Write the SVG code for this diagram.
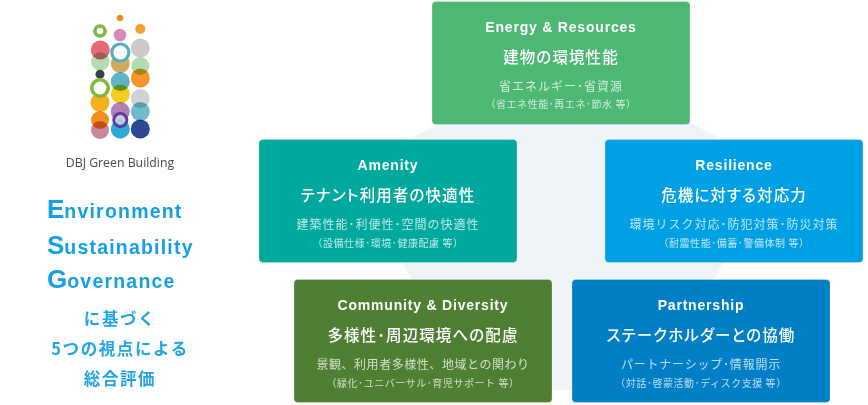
<svg xmlns="http://www.w3.org/2000/svg" width="868" height="405" viewBox="0 0 868 405">
<style>
text{font-family:"Liberation Sans","Noto Sans CJK JP",sans-serif;text-anchor:middle;fill:#fff}
.t{font-size:14px;font-weight:700;letter-spacing:.8px}
.h{font-family:"Noto Sans CJK JP",sans-serif;font-size:15.5px;font-weight:500;letter-spacing:1.1px;font-feature-settings:"palt"}
.s{font-family:"Noto Sans CJK JP",sans-serif;font-size:12px;letter-spacing:1px;fill-opacity:.75}
.n{font-family:"Noto Sans CJK JP",sans-serif;font-size:10px;letter-spacing:.55px;fill-opacity:.75}
.b{stroke:#fff;stroke-opacity:.25;stroke-width:1}
.e{text-anchor:start;fill:#159fe4;font-weight:700;font-size:19.5px;letter-spacing:1.2px}
.e tspan{font-size:26px;letter-spacing:0}
.j{fill:#22a5e6;font-family:"Noto Sans CJK JP",sans-serif;font-size:16.5px;font-weight:700;letter-spacing:1.6px}
.o circle{mix-blend-mode:multiply}
</style>
<polygon points="565,60 760,158 760,200 723,263 652,390 480,390 402,263 360,200 360,163 427,130" fill="#eff4f8"/>
<g id="logo">
<circle cx="120" cy="18" r="3.2" fill="#ef8a1f"/>
<circle cx="100" cy="31" r="5" fill="none" stroke="#7fb83e" stroke-width="3.6"/>
<circle cx="120" cy="35" r="6.3" fill="#d68ab4"/>
<circle cx="140.3" cy="29" r="5" fill="#f3a02f"/>
<g class="o">
<circle cx="100.3" cy="61.5" r="9.3" fill="#b5dbb0"/>
<circle cx="100.3" cy="50" r="9.5" fill="#e46a78"/>
<circle cx="120.3" cy="63.5" r="9.5" fill="#d3ab5e"/>
<circle cx="140.3" cy="48" r="9.5" fill="#cfc8c8"/>
<circle cx="140.3" cy="66" r="9" fill="#b4dcb3"/>
<circle cx="140.3" cy="78" r="9.5" fill="#f3962c"/>
<circle cx="120.3" cy="81.5" r="9.5" fill="#5fb5c6"/>
<circle cx="120.3" cy="94" r="9.5" fill="#f6cc1f"/>
<circle cx="100" cy="102.5" r="9.5" fill="#f5b121"/>
<circle cx="100" cy="120" r="9" fill="#f1901c"/>
<circle cx="100" cy="130" r="9" fill="#c98a98"/>
<circle cx="140.3" cy="98.5" r="9.5" fill="#d2d2d2"/>
<circle cx="140.3" cy="111.5" r="9.5" fill="#70bccb"/>
<circle cx="140.3" cy="129" r="9.5" fill="#2b4a94"/>
<circle cx="120.3" cy="111.5" r="9.5" fill="#b180b8"/>
<circle cx="120.3" cy="129" r="9.5" fill="#2fa9d8"/>
</g>
<circle cx="120.3" cy="52.5" r="8.5" fill="#fff" stroke="#4fb0c4" stroke-width="3.2"/>
<circle cx="100" cy="74.3" r="4.5" fill="#3b3f46"/>
<circle cx="100" cy="88" r="8.2" fill="#fff" stroke="#7fba3c" stroke-width="3.6"/>
<circle cx="120.3" cy="120" r="6.5" fill="#fff" fill-opacity=".55" stroke="#5b3f9c" stroke-width="3"/>
<text x="120" y="167" style="font-family:'Open Sans',sans-serif;font-size:12.3px;fill:#4a4a4a">DBJ Green Building</text>
</g>
<g id="esg">
<text class="e" x="47" y="218"><tspan>E</tspan>nvironment</text>
<text class="e" x="47" y="254"><tspan>S</tspan>ustainability</text>
<text class="e" x="47" y="288"><tspan>G</tspan>overnance</text>
<text class="j" x="120" y="325">に基づく</text>
<text class="j" x="120" y="355">5つの視点による</text>
<text class="j" x="120" y="385">総合評価</text>
</g>
<g id="energy">
<rect class="b" x="432" y="1.5" width="258" height="123" rx="4" fill="#4cb873"/>
<text class="t" x="561" y="32">Energy &amp; Resources</text>
<text class="h" x="561" y="63">建物の環境性能</text>
<text class="s" x="561" y="91">省エネルギー･省資源</text>
<text class="n" x="561" y="108">（省エネ性能･再エネ･節水 等）</text>
</g>
<g id="amenity">
<rect class="b" x="259" y="139.5" width="258" height="123" rx="4" fill="#00a99d"/>
<text class="t" x="388" y="170">Amenity</text>
<text class="h" x="388" y="201">テナント利用者の快適性</text>
<text class="s" x="388" y="229">建築性能･利便性･空間の快適性</text>
<text class="n" x="388" y="247">（設備仕様･環境･健康配慮 等）</text>
</g>
<g id="resilience">
<rect class="b" x="605" y="139.5" width="258" height="123" rx="4" fill="#00a0e4"/>
<text class="t" x="734" y="170">Resilience</text>
<text class="h" x="734" y="201">危機に対する対応力</text>
<text class="s" x="734" y="229">環境リスク対応･防犯対策･防災対策</text>
<text class="n" x="734" y="247">（耐震性能･備蓄･警備体制 等）</text>
</g>
<g id="community">
<rect class="b" x="294" y="279.5" width="258" height="123" rx="4" fill="#4f7f33"/>
<text class="t" x="423" y="310">Community &amp; Diversity</text>
<text class="h" x="423" y="341">多様性･周辺環境への配慮</text>
<text class="s" x="423" y="369" style="letter-spacing:.55px">景観、利用者多様性、地域との関わり</text>
<text class="n" x="423" y="387">（緑化･ユニバーサル･育児サポート 等）</text>
</g>
<g id="partnership">
<rect class="b" x="572" y="279.5" width="258" height="123" rx="4" fill="#007ec6"/>
<text class="t" x="701" y="310">Partnership</text>
<text class="h" x="701" y="341">ステークホルダーとの協働</text>
<text class="s" x="701" y="369" style="letter-spacing:.8px">パートナーシップ･情報開示</text>
<text class="n" x="701" y="387">（対話･啓蒙活動･ディスク支援 等）</text>
</g>
</svg>
